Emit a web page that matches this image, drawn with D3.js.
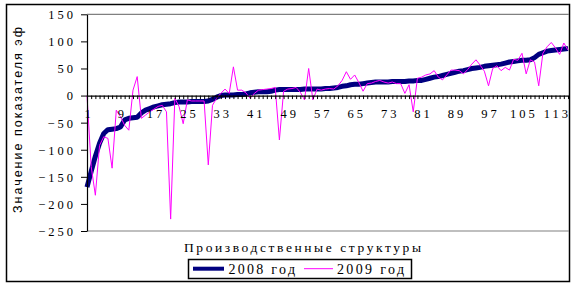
<!DOCTYPE html>
<html>
<head>
<meta charset="utf-8">
<script src="https://cdn.jsdelivr.net/npm/d3@7"></script>
<style>
  html, body { margin: 0; padding: 0; background: #fff; }
  svg { display: block; }
</style>
</head>
<body>
<script>
// ---- Data ----
const categories = d3.range(1, 117); // 1..116
const series2008 = [
  -169, -140, -112, -88, -70, -63, -62, -61, -58, -45,
  -42, -41, -40, -32, -27, -24, -21, -19, -17, -16,
  -15, -13, -12, -12, -12, -11, -11, -11, -11, -10,
  -7, -3, 0, 1, 1, 1, 2, 2, 3, 5,
  6, 7, 7, 7, 8, 10, 11, 11, 11, 11,
  11, 11, 12, 12, 12, 12, 12, 13, 13, 14,
  15, 17, 18, 20, 21, 21, 22, 23, 24, 25,
  25, 25, 25, 26, 26, 26, 26, 27, 27, 28,
  28, 30, 32, 34, 35, 37, 39, 41, 43, 45,
  46, 48, 50, 51, 52, 54, 55, 56, 57, 58,
  60, 62, 63, 64, 65, 65, 66, 70, 76, 79,
  82, 83, 84, 85, 86, 87
];
const series2009 = [
  0, -131, -184, -92, -76, -79, -134, -27, -39, -55,
  -64, 10, 35, -42, -36, -30, -25, -20, -18, -30,
  -228, -5, -20, -52, -8, -10, -10, -10, -10, -128,
  -18, -5, 4, 12, 4, 53, 10, 10, 5, -5,
  4, 10, 11, 12, 13, 15, -82, 8, 12, 13,
  15, 6, -8, 50, -8, 12, 10, 12, 13, 12,
  18, 28, 44, 30, 38, 24, 8, 22, 23, 26,
  28, 25, 23, 25, 22, 22, 4, 20, -30, 32,
  34, 38, 40, 46, 34, 29, 38, 47, 47, 46,
  40, 48, 58, 66, 56, 45, 18, 50, 55, 46,
  52, 47, 67, 65, 78, 40, 66, 62, 18, 78,
  90, 98, 88, 76, 97, 84
];
const yTicks = [150, 100, 50, 0, -50, -100, -150, -200, -250];
const xLabelCats = d3.range(1, 117, 8); // 1, 9, 17, ..., 113
const seriesNames = ["2008 год", "2009 год"];
const xTitle = "Производственные структуры";
const yTitle = "Значение показателя эф";

// ---- Layout ----
const W = 576, H = 285;
const plot = { left: 87, right: 568, top: 14.3, bottom: 231 };

const svg = d3.select("body").append("svg")
  .attr("width", W).attr("height", H);

svg.append("rect").attr("width", W).attr("height", H).attr("fill", "#fff");

// outer chart border
svg.append("rect")
  .attr("x", 6.5).attr("y", 4.5).attr("width", 563).attr("height", 277)
  .attr("fill", "none").attr("stroke", "#000").attr("stroke-width", 1.5);

const x = d3.scaleLinear().domain([1, 116]).range([plot.left, plot.right]);
const y = d3.scaleLinear().domain([-250, 150]).range([plot.bottom, plot.top]);

// plot area border (gray top/bottom)
svg.append("line").attr("x1", plot.left).attr("x2", 569).attr("y1", y(150)).attr("y2", y(150))
  .attr("stroke", "#808080").attr("stroke-width", 1.2);
svg.append("line").attr("x1", plot.left).attr("x2", 569).attr("y1", y(-250)).attr("y2", y(-250))
  .attr("stroke", "#808080").attr("stroke-width", 1.2);

const numFont = "'Liberation Serif', 'Times New Roman', serif";

// Lines
const line = d3.line().x((d, i) => x(categories[i])).y(d => y(d));

svg.append("path").datum(series2008)
  .attr("d", line).attr("fill", "none")
  .attr("stroke", "#000080").attr("stroke-width", 5)
  .attr("stroke-linejoin", "bevel");

svg.append("path").datum(series2009)
  .attr("d", line).attr("fill", "none")
  .attr("stroke", "#FF00FF").attr("stroke-width", 1);

// Y axis
const yAxis = d3.axisLeft(y).tickValues(yTicks).tickSize(6).tickPadding(5).tickSizeOuter(0);
const gy = svg.append("g").attr("transform", `translate(${plot.left},0)`).call(yAxis);
gy.select(".domain").attr("stroke", "#000").attr("stroke-width", 1.2);
gy.selectAll(".tick line").attr("stroke", "#000");
gy.selectAll(".tick text")
  .attr("font-family", numFont).attr("font-size", 12.5)
  .attr("letter-spacing", 3).attr("fill", "#000")
  .attr("dy", "0.35em");

// X axis at zero
const xAxis = d3.axisBottom(x).tickValues(categories).tickSize(3.5).tickSizeOuter(0)
  .tickFormat(d => xLabelCats.includes(d) ? String(d) : "");
const gx = svg.append("g").attr("transform", `translate(0,${y(0)})`).call(xAxis);
gx.select(".domain").attr("stroke", "#000").attr("stroke-width", 1.2);
gx.selectAll(".tick line").attr("stroke", "#000");
gx.selectAll(".tick text")
  .attr("font-family", numFont).attr("font-size", 12.5)
  .attr("letter-spacing", 3).attr("fill", "#000")
  .attr("y", 0).attr("dy", 0)
  .attr("transform", "translate(1.5,22.5)");

// Axis titles
svg.append("text")
  .attr("x", 184).attr("y", 252)
  .attr("font-family", numFont).attr("font-size", 13.5)
  .attr("textLength", 237).attr("lengthAdjust", "spacing")
  .attr("fill", "#000").text(xTitle);

svg.append("text")
  .attr("transform", "translate(22,213) rotate(-90)")
  .attr("font-family", "'Liberation Sans', Arial, sans-serif").attr("font-size", 12.5)
  .attr("textLength", 186).attr("lengthAdjust", "spacing")
  .attr("fill", "#000").text(yTitle);

// Legend
const lg = svg.append("g");
lg.append("rect").attr("x", 188.5).attr("y", 259.5).attr("width", 223).attr("height", 19)
  .attr("fill", "#fff").attr("stroke", "#000").attr("stroke-width", 1.5);
lg.append("line").attr("x1", 193).attr("x2", 224).attr("y1", 268.7).attr("y2", 268.7)
  .attr("stroke", "#000080").attr("stroke-width", 4);
lg.append("text").attr("x", 228.5).attr("y", 274)
  .attr("font-family", numFont).attr("font-size", 14)
  .attr("textLength", 66.5).attr("lengthAdjust", "spacing")
  .attr("fill", "#000").text(seriesNames[0]);
lg.append("line").attr("x1", 304).attr("x2", 333).attr("y1", 268.7).attr("y2", 268.7)
  .attr("stroke", "#FF00FF").attr("stroke-width", 1);
lg.append("text").attr("x", 337).attr("y", 274)
  .attr("font-family", numFont).attr("font-size", 14)
  .attr("textLength", 67).attr("lengthAdjust", "spacing")
  .attr("fill", "#000").text(seriesNames[1]);
</script>
</body>
</html>
